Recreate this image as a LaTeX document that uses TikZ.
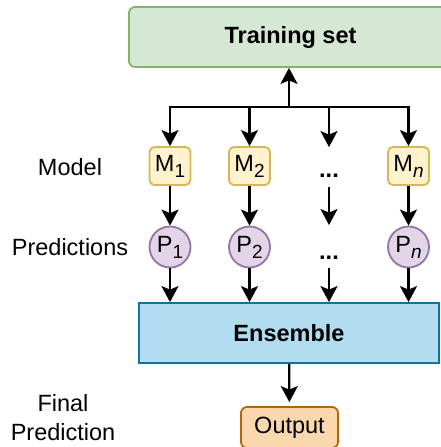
\documentclass[tikz,border=0pt]{standalone}
\usepackage{fontspec}
\setmainfont{Liberation Sans}
\usetikzlibrary{arrows.meta}
\definecolor{trainfill}{HTML}{D5E8D4}
\definecolor{trainline}{HTML}{82B366}
\definecolor{modelfill}{HTML}{FFF2CC}
\definecolor{modelline}{HTML}{D6B656}
\definecolor{predfill}{HTML}{E1D5E7}
\definecolor{predline}{HTML}{9673A6}
\definecolor{ensfill}{HTML}{B1DDF0}
\definecolor{ensline}{HTML}{10739E}
\definecolor{outfill}{HTML}{FAD7AC}
\definecolor{outline}{HTML}{B46504}
\newcommand{\subidx}[1]{\raisebox{-6pt}{\fontsize{19}{19}\selectfont #1}}

\begin{document}
\begin{tikzpicture}[x=1pt, y=-1pt,
        every node/.style={font=\fontsize{23.5}{29}\selectfont},
        box/.style={rounded corners=6pt, inner sep=0, align=center, line width=1.8pt},
        model/.style={box, fill=modelfill, draw=modelline, minimum width=41pt, minimum height=38pt, rounded corners=5pt},
        pred/.style={circle, draw=predline, fill=predfill, minimum size=41pt, inner sep=0, line width=1.8pt},
        dots/.style={inner sep=0, font=\fontsize{23.5}{29}\selectfont\bfseries},
        arr/.style={line width=2.2pt, -{Stealth[length=16pt, width=17pt, inset=3.5pt]}}]
    \useasboundingbox (0,0) rectangle (441,447);
    % boxes
    \node[box, fill=trainfill, draw=trainline, minimum width=323pt, minimum height=60pt, font=\fontsize{23.5}{29}\selectfont\bfseries] (train) at (290.5,37) {Training set};
    \node[box, fill=ensfill, draw=ensline, minimum width=300pt, minimum height=60pt, rounded corners=0pt, font=\fontsize{23.5}{29}\selectfont\bfseries] (ens) at (289,333) {Ensemble};
    \node[box, fill=outfill, draw=outline, minimum width=97pt, minimum height=41pt] (out) at (289.5,427.5) {Output};
    \node[model] (m1) at (170,166) {M\subidx{1}};
    \node[model] (m2) at (249.5,166) {M\subidx{2}};
    \node[model] (mn) at (408.5,166) {M\subidx{\itshape n}};
    \node[pred] (p1) at (170,247) {P\subidx{1}};
    \node[pred] (p2) at (249.5,247) {P\subidx{2}};
    \node[pred] (pn) at (408.5,247) {P\subidx{\itshape n}};
    \node[dots] (d1) at (329,176) {...};
    \node[dots] (d2) at (329,258) {...};
    % row labels
    \node (lmodel) at (70,167) {Model};
    \node (lpred) at (70,247) {Predictions};
    \node[align=center] (lfinal) at (63,418) {Final\\Prediction};
    % connectors
    \coordinate (fork) at (289,107);
    \draw[arr] (fork) -- (fork |- train.south);
    \foreach \n in {m1,m2,mn}
        \draw[arr] (fork) -| (\n);
    \draw[arr, shorten >=27pt] (fork) -| (d1);
    \foreach \i in {1,2,n}
        \draw[arr] (m\i) -- (p\i);
    \draw[arr, shorten <=9pt, shorten >=31pt] (d1) -- (d2);
    \foreach \n in {p1,p2,pn}
        \draw[arr] (\n) -- (\n |- ens.north);
    \draw[arr, shorten <=8pt] (d2) -- (d2 |- ens.north);
    \draw[arr, shorten >=4pt] (ens) -- (out);
\end{tikzpicture}
\end{document}
